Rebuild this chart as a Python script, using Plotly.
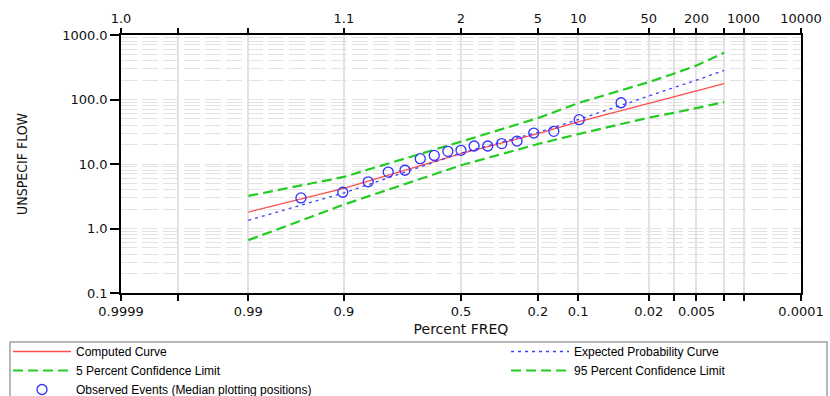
import plotly.graph_objects as go
from statistics import NormalDist

# ---------------- data (exceedance probabilities / flows) ----------------
curve_prob = [0.99, 0.9, 0.5, 0.2, 0.1, 0.02, 0.01, 0.005, 0.002]
computed_curve = [1.8, 4.2, 14.5, 29.5, 44.8, 86, 110, 135, 177]
expected_curve = [1.34, 3.56, 14.8, 31, 48.7, 112, 151, 200, 282]
conf_limit_5 = [3.2, 6.3, 22.2, 51.5, 88, 186, 251, 336, 530]
conf_limit_95 = [0.66, 2.35, 9.55, 20.4, 29.1, 52.3, 62, 73, 91]

obs_prob = [0.040, 0.098, 0.155, 0.213, 0.270, 0.328, 0.385, 0.443, 0.500,
            0.557, 0.615, 0.672, 0.730, 0.787, 0.845, 0.902, 0.960]
obs_flow = [89, 48.7, 32.1, 30.2, 22.7, 20.7, 19.0, 19.0, 16.3,
            15.7, 13.6, 12.1, 8.0, 7.5, 5.3, 3.65, 2.98]

tick_prob = [0.9999, 0.999, 0.99, 0.9, 0.5, 0.2, 0.1, 0.02, 0.01, 0.005, 0.002, 0.001, 0.0001]
bottom_tick_text = ["0.9999", "", "0.99", "0.9", "0.5", "0.2", "0.1", "0.02", "", "0.005", "", "", "0.0001"]
top_tick_text = ["1.0", "", "", "1.1", "2", "5", "10", "50", "", "200", "", "1000", "10000"]
y_tick_vals = [0.1, 1, 10, 100, 1000]
y_tick_text = ["0.1", "1.0", "10.0", "100.0", "1000.0"]

# ---------------- probability scale ----------------
nd = NormalDist()


def zq(p_list):
    return [nd.inv_cdf(1 - p) for p in p_list]


W, H = 830, 396
ML, MR, MT, MB = 121, 29, 35, 103
pw, ph = W - ML - MR, H - MT - MB


def px_x(X):
    return (X - ML) / pw


def px_y(Y):
    return (H - MB - Y) / ph


tick_font = dict(family="DejaVu Sans, Verdana, sans-serif", size=13, color="#111")
leg_font = dict(family="Liberation Sans, Arial, sans-serif", size=12, color="#000")
GREEN = "#22cc22"

fig = go.Figure()
fig.add_trace(go.Scatter(x=zq(curve_prob), y=computed_curve, mode="lines",
                         name="Computed Curve", legend="legend",
                         line=dict(color="#ff4d4d", width=1.3)))
fig.add_trace(go.Scatter(x=zq(curve_prob), y=expected_curve, mode="lines",
                         name="Expected Probability Curve", legend="legend2",
                         line=dict(color="#4040ff", width=1.3, dash="3px,4px")))
fig.add_trace(go.Scatter(x=zq(curve_prob), y=conf_limit_5, mode="lines",
                         name="5 Percent Confidence Limit", legend="legend",
                         line=dict(color=GREEN, width=2.2, dash="10px,5px")))
fig.add_trace(go.Scatter(x=zq(curve_prob), y=conf_limit_95, mode="lines",
                         name="95 Percent Confidence Limit", legend="legend2",
                         line=dict(color=GREEN, width=2.2, dash="10px,5px")))
fig.add_trace(go.Scatter(x=zq(obs_prob), y=obs_flow, mode="markers",
                         name="Observed Events (Median plotting positions)", legend="legend",
                         marker=dict(symbol="circle-open", size=10, color="#3030ff",
                                     line=dict(width=1.3, color="#3030ff"))))

xr = [nd.inv_cdf(1 - 0.9999), nd.inv_cdf(1 - 0.0001)]
grid_col = "#e2e2e2"

minor_vals = [m * 10 ** k for k in range(-1, 3) for m in range(2, 10)]

fig.update_layout(
    width=W, height=H,
    margin=dict(l=ML, r=MR, t=MT, b=MB, autoexpand=False),
    paper_bgcolor="white", plot_bgcolor="white",
    showlegend=True,
    xaxis=dict(range=xr, tickmode="array", tickvals=zq(tick_prob), ticktext=bottom_tick_text,
               ticks="outside", ticklen=6, tickwidth=1.5, tickcolor="#000",
               showline=True, linecolor="#000", linewidth=1.5,
               showgrid=True, gridcolor=grid_col, gridwidth=1.5, zeroline=False,
               tickfont=tick_font,
               title=dict(text="Percent FREQ", standoff=6,
                          font=dict(family="DejaVu Sans, sans-serif", size=14, color="#111"))),
    xaxis2=dict(range=xr, overlaying="x", side="top", tickmode="array",
                tickvals=zq(tick_prob), ticktext=top_tick_text,
                ticks="outside", ticklen=5, tickwidth=1.5, tickcolor="#000",
                showline=True, linecolor="#000", linewidth=1.5,
                showgrid=False, zeroline=False, tickfont=tick_font),
    yaxis=dict(type="log", range=[-1, 3], tickmode="array", tickvals=y_tick_vals,
               ticktext=y_tick_text, ticks="outside", ticklen=9, tickwidth=1.5, tickcolor="#000",
               showline=True, linecolor="#000", linewidth=1.5, mirror=True,
               showgrid=True, gridcolor=grid_col, gridwidth=1, griddash="16px,5px",
               zeroline=False, tickfont=tick_font,
               minor=dict(tickmode="array", tickvals=minor_vals, showgrid=True,
                          gridcolor=grid_col, gridwidth=1, griddash="16px,5px", ticks="")),
    legend=dict(xref="container", yref="container", x=8 / W, y=1 - 337 / H,
                xanchor="left", yanchor="top", orientation="v", bgcolor="rgba(0,0,0,0)",
                borderwidth=0, itemwidth=58, font=leg_font, tracegroupgap=0),
    legend2=dict(xref="container", yref="container", x=506 / W, y=1 - 337 / H,
                 xanchor="left", yanchor="top", orientation="v", bgcolor="rgba(0,0,0,0)",
                 borderwidth=0, itemwidth=58, font=leg_font, tracegroupgap=0),
    shapes=[dict(type="rect", xref="paper", yref="paper",
                 x0=px_x(10), x1=px_x(827), y0=px_y(342), y1=px_y(402),
                 line=dict(color="#a0a0a0", width=1.5), fillcolor="rgba(0,0,0,0)",
                 layer="below")],
    annotations=[dict(text="UNSPECIF FLOW", textangle=-90, xref="paper", yref="paper",
                      x=px_x(22), y=0.5, xanchor="center", yanchor="middle", showarrow=False,
                      font=dict(family="Liberation Sans Narrow, DejaVu Sans Condensed, Arial Narrow, Liberation Sans, sans-serif",
                                size=14, color="#111"))],
)

# attach an invisible trace to the top axis so it is laid out
fig.add_trace(go.Scatter(x=[xr[0]], y=[1], xaxis="x2", mode="markers",
                         marker=dict(opacity=0), showlegend=False, hoverinfo="skip"))

fig.write_html("out.html", config={"displayModeBar": False},
               post_script="document.body.style.margin='0px';")
